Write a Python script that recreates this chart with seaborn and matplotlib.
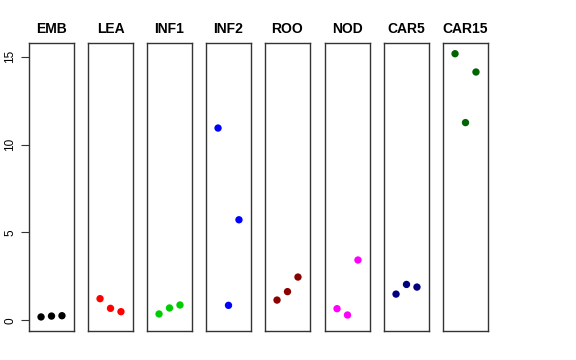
import matplotlib
matplotlib.use("Agg")
import matplotlib.pyplot as plt
import seaborn as sns
import pandas as pd

sns.set_style("white")
plt.rcParams['font.family'] = ['Liberation Sans', 'DejaVu Sans']
plt.rcParams['text.color'] = 'black'
plt.rcParams['axes.labelcolor'] = 'black'
plt.rcParams['ytick.color'] = 'black'

tissues = ["EMB", "LEA", "INF1", "INF2", "ROO", "NOD", "CAR5", "CAR15"]
colors = ["#000000", "#FF0000", "#00CD00", "#0000FF", "#8B0000", "#FF00FF", "#000080", "#006400"]
replicate = [1, 2, 3]
emb = [0.19, 0.24, 0.26]
lea = [1.23, 0.68, 0.49]
inf1 = [0.36, 0.70, 0.87]
inf2 = [10.94, 0.85, 5.72]
roo = [1.15, 1.63, 2.46]
nod = [0.66, 0.30, 3.43]
car5 = [1.49, 2.04, 1.89]
car15 = [15.17, 11.25, 14.13]
yticks = [0, 5, 10, 15]

values = [emb, lea, inf1, inf2, roo, nod, car5, car15]
df = pd.DataFrame({
    "tissue": [t for t, v in zip(tissues, values) for _ in v],
    "rep": [r for v in values for r in replicate],
    "value": [x for v in values for x in v],
})

W, H = 576, 360
fig = plt.figure(figsize=(W / 100, H / 100), dpi=100)
lefts = [29, 88, 147, 206, 265, 325, 384, 443]
pw = 45
top, bottom = 43, 331
ylim = (-0.61, 15.78)
for i, (t, c) in enumerate(zip(tissues, colors)):
    ax = fig.add_axes([lefts[i] / W, (H - bottom) / H, pw / W, (bottom - top) / H])
    sub = df[df.tissue == t]
    sns.scatterplot(data=sub, x="rep", y="value", color=c, s=28, edgecolor="none", ax=ax, legend=False)
    ax.set_xlim(-0.15, 4.15)
    ax.set_ylim(*ylim)
    ax.set_xlabel("")
    ax.set_ylabel("")
    ax.set_xticks([])
    ax.set_title(t, fontsize=10, fontweight="bold", pad=7, color="black")
    for s in ax.spines.values():
        s.set_visible(True)
        s.set_color("#333333")
        s.set_linewidth(1.0)
    if i == 0:
        ax.set_yticks(yticks)
        ax.set_yticklabels([str(v) for v in yticks], rotation=90, va="center", fontsize=8.5, color="black")
        ax.tick_params(axis="y", which="both", left=True, length=6, width=0.8, color="#333333", pad=3)
    else:
        ax.set_yticks([])

fig.savefig("out.png", dpi=100)
